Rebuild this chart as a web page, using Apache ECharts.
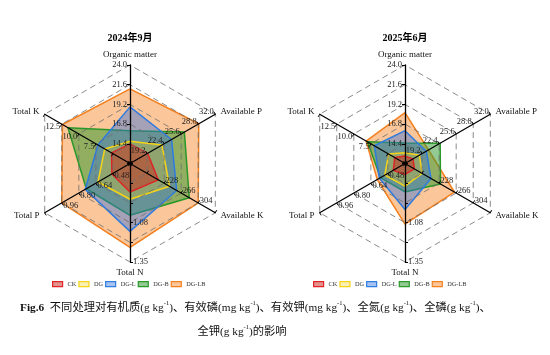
<!DOCTYPE html>
<html>
<head>
<meta charset="utf-8">
<script src="https://cdn.jsdelivr.net/npm/echarts@6/dist/echarts.min.js"></script>
<style>
html,body{margin:0;padding:0;background:#fff;}
#chart{width:550px;height:355px;}
</style>
</head>
<body>
<div id="chart"></div>
<script>
// ---- data ----
const indicatorNames = ['Organic matter', 'Total K', 'Total P', 'Total N', 'Available K', 'Available P'];
const axisMin = [12, 2.5, 0.32, 0.675, 152, 16];
const axisMax = [24, 15, 1.12, 1.35, 342, 32];
const hiddenTickValues = [5, 15, 1.12, 0.81, 0.945, 1.215, 190, 342];
const treatments = ['CK', 'DG', 'DG-L', 'DG-B', 'DG-LB'];
const panelTitles = ['2024年9月', '2025年6月'];
// values in indicator order: OM, TK, TP, TN, AK, AP
const sep2024 = {
  'CK':    [14.4, 5.2, 0.49, 0.87, 215, 19.3],
  'DG':    [14.7, 6.2, 0.62, 0.92, 240, 22.0],
  'DG-L':  [18.9, 7.2, 0.74, 1.14, 256, 23.8],
  'DG-B':  [16.0, 11.6, 0.73, 1.03, 284, 26.2],
  'DG-LB': [21.1, 12.4, 0.96, 1.25, 304, 28.9]
};
const jun2025 = {
  'CK':    [12.9, 4.0, 0.43, 0.75, 173, 17.5],
  'DG':    [13.3, 4.9, 0.51, 0.83, 190, 18.7],
  'DG-L':  [16.0, 7.0, 0.56, 0.99, 210, 20.0],
  'DG-B':  [14.5, 8.0, 0.55, 0.87, 231, 22.6],
  'DG-LB': [18.2, 8.2, 0.58, 1.09, 262, 20.4]
};

// ---- styles ----
const lineColors = {'CK':'#e3242b','DG':'#f7d417','DG-L':'#2f7fe0','DG-B':'#2a9a2a','DG-LB':'#f5801f'};
const fillColors = {'CK':'rgba(200,40,30,0.5)','DG':'rgba(235,205,20,0.3)','DG-L':'rgba(47,110,224,0.42)','DG-B':'rgba(40,150,40,0.5)','DG-LB':'rgba(245,128,31,0.45)'};
const drawOrder = ['DG-LB', 'DG-B', 'DG-L', 'DG', 'CK'];
const serif = "'Liberation Serif','Times New Roman','Noto Sans CJK SC',serif";

function fmtTick(v, idx) {
  if (idx === 0) return '';
  for (const h of hiddenTickValues) if (Math.abs(v - h) < 1e-6) return '';
  if (v < 2) return v.toFixed(2);
  if (v > 100) return v.toFixed(0);
  return v.toFixed(1);
}

function makeRadar(cx) {
  return {
    z: 5,
    center: [cx, 163.5],
    radius: 98.5,
    shape: 'polygon',
    splitNumber: 5,
    startAngle: 90,
    indicator: indicatorNames.map((n, i) => ({name: n, min: axisMin[i], max: axisMax[i]})),
    axisName: {color: '#111', fontSize: 9, fontFamily: serif},
    nameGap: 6,
    axisLine: {lineStyle: {color: '#000', width: 1.3}},
    axisTick: {show: true, length: 3, lineStyle: {color: '#000', width: 1}},
    axisLabel: {show: true, fontSize: 8.5, color: '#222', fontFamily: serif, margin: 3, formatter: fmtTick},
    splitLine: {lineStyle: {color: 'rgba(110,110,110,0.8)', type: [6, 4], width: 1}},
    splitArea: {show: false}
  };
}

function makeSeriesList(idx, dataset) {
  return drawOrder.map(k => ({
    type: 'radar',
    name: k,
    radarIndex: idx,
    z: 2,
    symbol: 'none',
    silent: true,
    color: lineColors[k],
    lineStyle: {color: lineColors[k], width: 1.5},
    itemStyle: {color: lineColors[k]},
    areaStyle: {color: fillColors[k], opacity: 1},
    data: [{name: k, value: dataset[k]}]
  }));
}

function makeLegend(left) {
  return {
    left: left, top: 281, padding: 0,
    orient: 'horizontal',
    icon: 'rect', itemWidth: 10, itemHeight: 5, itemGap: 2,
    selectedMode: false,
    textStyle: {fontSize: 6.3, color: '#333', fontFamily: serif},
    data: treatments.map(k => ({name: k, itemStyle: {color: fillColors[k], borderColor: lineColors[k], borderWidth: 1.2}}))
  };
}

const capRich = {
  b: {fontSize: 11.3, fontWeight: 'bold', fontFamily: serif, lineHeight: 15},
  t: {fontSize: 11.3, fontFamily: serif, lineHeight: 15},
  s: {fontSize: 6.5, fontFamily: serif, verticalAlign: 'top'}
};
const capBase = {fontSize: 11.3, fontFamily: serif, fill: '#111', lineHeight: 15};

const option = {
  animation: false,
  backgroundColor: '#fff',
  radar: [makeRadar(130), makeRadar(405)],
  legend: [makeLegend(52), makeLegend(313)],
  series: makeSeriesList(0, sep2024).concat(makeSeriesList(1, jun2025)),
  graphic: [
    {type: 'text', x: 130, y: 38, style: {text: panelTitles[0], align: 'center', verticalAlign: 'middle', font: "bold 10px 'Liberation Serif','Noto Sans CJK SC',serif", fill: '#000'}},
    {type: 'text', x: 405, y: 38, style: {text: panelTitles[1], align: 'center', verticalAlign: 'middle', font: "bold 10px 'Liberation Serif','Noto Sans CJK SC',serif", fill: '#000'}},
    {type: 'text', x: 20, y: 308, style: Object.assign({}, capBase, {
      text: '{b|Fig.6}  {t|不同处理对有机质(g kg}{s|-1}{t|)、有效磷(mg kg}{s|-1}{t|)、有效钾(mg kg}{s|-1}{t|)、全氮(g kg}{s|-1}{t|)、全磷(g kg}{s|-1}{t|)、}',
      align: 'left', verticalAlign: 'middle', rich: capRich})},
    {type: 'text', x: 242, y: 332, style: Object.assign({}, capBase, {
      text: '{t|全钾(g kg}{s|-1}{t|)的影响}',
      align: 'center', verticalAlign: 'middle', rich: capRich})}
  ]
};

const chart = echarts.init(document.getElementById('chart'), null, {renderer: 'canvas'});
chart.setOption(option);
</script>
</body>
</html>
